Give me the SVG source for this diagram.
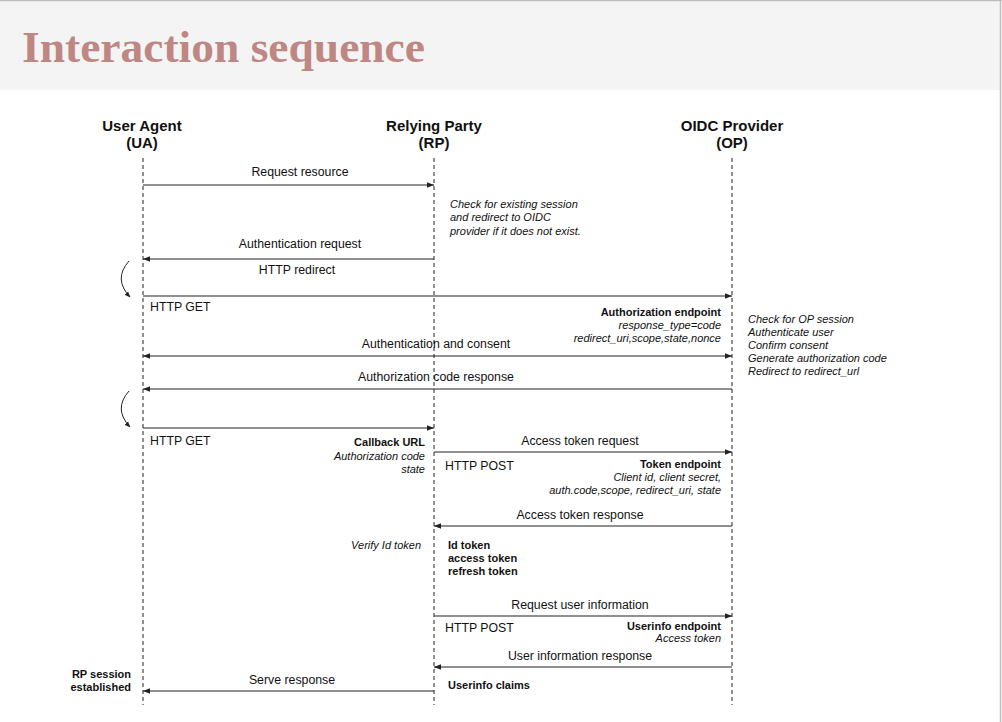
<svg xmlns="http://www.w3.org/2000/svg" width="1002" height="722" viewBox="0 0 1002 722">
<defs>
<marker id="ah" viewBox="0 0 10 10" refX="10" refY="5" markerWidth="7" markerHeight="7" markerUnits="userSpaceOnUse" orient="auto-start-reverse">
<path d="M0,1 L10,5 L0,9 z" fill="#222"/>
</marker>
<marker id="ch" viewBox="0 0 10 10" refX="9" refY="5" markerWidth="6" markerHeight="6" markerUnits="userSpaceOnUse" orient="auto">
<path d="M0,1 L10,5 L0,9 z" fill="#222"/>
</marker>
</defs>
<style>
text{font-family:"Liberation Sans",Arial,sans-serif;fill:#111}
.hd{font-size:15px;font-weight:bold;text-anchor:middle}
.lb{font-size:12.3px}
.c{text-anchor:middle}
.r{text-anchor:end}
.it{font-size:11px;font-style:italic}
.bd{font-size:11px;font-weight:bold}
.life{stroke:#222;stroke-width:1;stroke-dasharray:4,3;fill:none}
.msg{stroke:#222;stroke-width:1.2;fill:none;marker-end:url(#ah)}
.curve{stroke:#222;stroke-width:1;fill:none;marker-end:url(#ch)}
</style>
<rect x="0" y="0" width="1002" height="722" fill="#fff"/>
<rect x="0" y="1" width="1000" height="89" fill="#f4f4f4"/>
<line x1="0" y1="0.5" x2="1002" y2="0.5" stroke="#bdbdbd" stroke-width="1.5"/>
<line x1="1000.5" y1="0" x2="1000.5" y2="722" stroke="#bdbdbd" stroke-width="1.5"/>
<text x="22" y="62" textLength="403" lengthAdjust="spacingAndGlyphs" style="font-family:'Liberation Serif','Times New Roman',serif;font-size:45px;font-weight:bold;fill:#bf8783">Interaction sequence</text>

<g id="ua">
<text class="hd" x="142" y="131">User Agent</text>
<text class="hd" x="142" y="148">(UA)</text>
<line class="life" x1="143" y1="158" x2="143" y2="705"/>
</g>
<g id="rp">
<text class="hd" x="434" y="131">Relying Party</text>
<text class="hd" x="434" y="148">(RP)</text>
<line class="life" x1="434" y1="158" x2="434" y2="705"/>
</g>
<g id="op">
<text class="hd" x="732" y="131">OIDC Provider</text>
<text class="hd" x="732" y="148">(OP)</text>
<line class="life" x1="732" y1="158" x2="732" y2="705"/>
</g>

<g id="connectors">
<line class="msg" x1="143" y1="185" x2="434" y2="185"/>
<line class="msg" x1="434" y1="259" x2="143" y2="259"/>
<path class="curve" d="M129,261 Q113,279 130,297"/>
<line class="msg" x1="143" y1="296" x2="732" y2="296"/>
<line class="msg" x1="143" y1="356" x2="732" y2="356" style="marker-start:url(#ah)"/>
<line class="msg" x1="732" y1="389" x2="143" y2="389"/>
<path class="curve" d="M129,391 Q113,409 130,427"/>
<line class="msg" x1="143" y1="428" x2="434" y2="428"/>
<line class="msg" x1="434" y1="452" x2="732" y2="452"/>
<line class="msg" x1="732" y1="526" x2="434" y2="526"/>
<line class="msg" x1="434" y1="616" x2="732" y2="616"/>
<line class="msg" x1="732" y1="667" x2="434" y2="667"/>
<line class="msg" x1="434" y1="691" x2="143" y2="691"/>
</g>

<g id="labels">
<text class="lb c" x="300" y="176">Request resource</text>
<text class="lb c" x="300" y="248">Authentication request</text>
<text class="lb c" x="297" y="274">HTTP redirect</text>
<text class="lb" x="150" y="311">HTTP GET</text>
<text class="lb c" x="436" y="348">Authentication and consent</text>
<text class="lb c" x="436" y="381">Authorization code response</text>
<text class="lb" x="150" y="445">HTTP GET</text>
<text class="lb c" x="580" y="445">Access token request</text>
<text class="lb" x="445" y="470">HTTP POST</text>
<text class="lb c" x="580" y="519">Access token response</text>
<text class="lb c" x="580" y="609">Request user information</text>
<text class="lb" x="445" y="632">HTTP POST</text>
<text class="lb c" x="580" y="660">User information response</text>
<text class="lb c" x="292" y="684">Serve response</text>

<text class="it" x="450" y="208">Check for existing session</text>
<text class="it" x="450" y="221">and redirect to OIDC</text>
<text class="it" x="450" y="235">provider if it does not exist.</text>

<text class="bd r" x="721" y="316">Authorization endpoint</text>
<text class="it r" x="721" y="329">response_type=code</text>
<text class="it r" x="721" y="342">redirect_uri,scope,state,nonce</text>

<text class="it" x="748" y="323">Check for OP session</text>
<text class="it" x="748" y="336">Authenticate user</text>
<text class="it" x="748" y="349">Confirm consent</text>
<text class="it" x="748" y="362">Generate authorization code</text>
<text class="it" x="748" y="375">Redirect to redirect_url</text>

<text class="bd r" x="425" y="446">Callback URL</text>
<text class="it r" x="425" y="460">Authorization code</text>
<text class="it r" x="425" y="473">state</text>

<text class="bd r" x="721" y="468">Token endpoint</text>
<text class="it r" x="721" y="481">Client id, client secret,</text>
<text class="it r" x="721" y="494">auth.code,scope, redirect_uri, state</text>

<text class="it r" x="421" y="549">Verify Id token</text>
<text class="bd" x="448" y="549">Id token</text>
<text class="bd" x="448" y="562">access token</text>
<text class="bd" x="448" y="575">refresh token</text>

<text class="bd r" x="721" y="630">Userinfo endpoint</text>
<text class="it r" x="721" y="642">Access token</text>

<text class="bd" x="448" y="689">Userinfo claims</text>

<text class="bd r" x="131" y="678">RP session</text>
<text class="bd r" x="131" y="691">established</text>
</g>
</svg>
